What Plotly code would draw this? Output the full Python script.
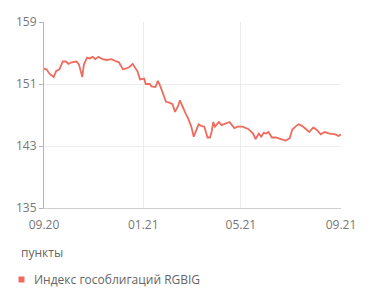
import plotly.graph_objects as go

dates = [
    "2020-09-01", "2020-09-04", "2020-09-08", "2020-09-13", "2020-09-16", "2020-09-20",
    "2020-09-24", "2020-09-28", "2020-10-01", "2020-10-05", "2020-10-11", "2020-10-14",
    "2020-10-18", "2020-10-20", "2020-10-24", "2020-10-27", "2020-10-31", "2020-11-03",
    "2020-11-07", "2020-11-12", "2020-11-17", "2020-11-23", "2020-11-27", "2020-12-02",
    "2020-12-07", "2020-12-11", "2020-12-15", "2020-12-19", "2020-12-25", "2020-12-28",
    "2021-01-02", "2021-01-04", "2021-01-09", "2021-01-11", "2021-01-16", "2021-01-19",
    "2021-01-22", "2021-01-26", "2021-01-29", "2021-02-02", "2021-02-06", "2021-02-09",
    "2021-02-13", "2021-02-15", "2021-02-18", "2021-02-22", "2021-02-25", "2021-03-01",
    "2021-03-04", "2021-03-07", "2021-03-10", "2021-03-13", "2021-03-17", "2021-03-21",
    "2021-03-24", "2021-03-26", "2021-03-28", "2021-03-30", "2021-04-01", "2021-04-04",
    "2021-04-07", "2021-04-11", "2021-04-17", "2021-04-20", "2021-04-23", "2021-04-27",
    "2021-05-03", "2021-05-10", "2021-05-16", "2021-05-19", "2021-05-23", "2021-05-26",
    "2021-05-29", "2021-06-01", "2021-06-04", "2021-06-08", "2021-06-13", "2021-06-19",
    "2021-06-25", "2021-06-30", "2021-07-03", "2021-07-08", "2021-07-11", "2021-07-15",
    "2021-07-19", "2021-07-24", "2021-07-29", "2021-08-02", "2021-08-07", "2021-08-12",
    "2021-08-18", "2021-08-25", "2021-08-29", "2021-09-01",
]
values = [
    153.0, 152.9, 152.3, 151.9, 152.7, 152.9,
    153.9, 153.9, 153.6, 153.8, 153.9, 153.5,
    151.9, 153.5, 154.4, 154.3, 154.5, 154.2,
    154.5, 154.2, 154.1, 154.2, 154.0, 153.8,
    152.9, 153.0, 153.2, 153.6, 152.6, 151.6,
    151.7, 151.0, 151.0, 150.7, 150.6, 151.4,
    150.7, 149.4, 148.7, 148.6, 148.4, 147.4,
    148.2, 148.9, 148.1, 147.2, 146.6, 145.5,
    144.2, 145.1, 145.8, 145.6, 145.5, 144.1,
    144.1, 144.8, 146.1, 145.5, 145.7, 146.1,
    145.7, 145.9, 146.1, 145.7, 145.3, 145.5,
    145.5, 145.2, 144.6, 143.9, 144.6, 144.2,
    144.7, 144.6, 144.8, 144.1, 144.1, 143.9,
    143.7, 144.0, 145.1, 145.6, 145.8, 145.6,
    145.2, 144.8, 145.4, 145.1, 144.5, 144.8,
    144.6, 144.5, 144.3, 144.5,
]
tick_dates = ["2020-09-01", "2021-01-01", "2021-05-01", "2021-09-01"]
tick_labels = ["09.20", "01.21", "05.21", "09.21"]
y_ticks = [135, 143, 151, 159]
series_name = "Индекс гособлигаций RGBIG"
unit_label = "пункты"

LINE = "#ef6b5e"
FONT = "Open Sans"

fig = go.Figure()
fig.add_trace(go.Scatter(
    x=dates, y=values, mode="lines",
    line=dict(color=LINE, width=1.8), name=series_name, showlegend=False,
))

fig.update_layout(
    width=371, height=302,
    margin=dict(l=44, r=30, t=22, b=94),
    paper_bgcolor="white", plot_bgcolor="white",
    font=dict(family=FONT, size=11, color="#777777"),
    xaxis=dict(
        type="date", range=[tick_dates[0], tick_dates[-1]],
        tickvals=tick_dates, ticktext=tick_labels,
        showgrid=True, gridcolor="#ececec", gridwidth=1,
        showline=True, linecolor="#cfcfcf", linewidth=1,
        ticks="outside", ticklen=6, tickcolor="rgba(0,0,0,0)",
        zeroline=False,
        tickfont=dict(size=12, color="#777777"),
    ),
    yaxis=dict(
        range=[y_ticks[0], y_ticks[-1]], tickvals=y_ticks,
        showgrid=True, gridcolor="#ececec", gridwidth=1,
        showline=True, linecolor="#b5b5b5", linewidth=1,
        ticks="outside", ticklen=4, tickcolor="#b5b5b5",
        zeroline=False,
        tickfont=dict(size=12, color="#777777"),
    ),
    annotations=[
        dict(text=unit_label, xref="paper", yref="paper",
             x=(19 - 44) / 297, y=-(252.5 - 208) / 186,
             xanchor="left", yanchor="middle", showarrow=False,
             font=dict(size=12, color="#666666", family=FONT)),
        dict(text=series_name, xref="paper", yref="paper",
             x=(32 - 44) / 297, y=-(279.5 - 208) / 186,
             xanchor="left", yanchor="middle", showarrow=False,
             font=dict(size=12, color="#666666", family=FONT)),
    ],
    shapes=[
        dict(type="rect", xref="paper", yref="paper",
             x0=(18.5 - 44) / 297, x1=(24.5 - 44) / 297,
             y0=-(276.5 - 208) / 186, y1=-(282.5 - 208) / 186,
             fillcolor=LINE, line=dict(width=0)),
    ],
)

fig.write_html("out.html")
